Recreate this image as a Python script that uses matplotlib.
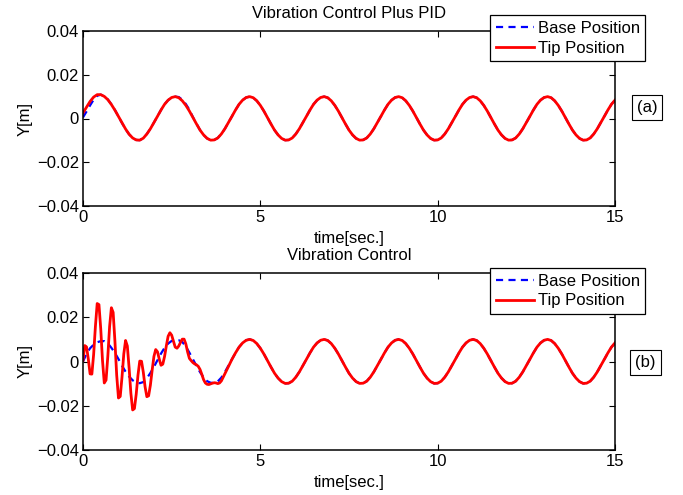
import numpy as np
import matplotlib
matplotlib.use("Agg")
import matplotlib.pyplot as plt

plt.rcParams['font.family'] = ['Liberation Sans', 'DejaVu Sans']
plt.rcParams['font.size'] = 12

# sample times [s]
t = np.round(np.arange(151) * 0.1, 2)
t_tip_b = np.round(np.concatenate([np.arange(84) * 0.05, 4.2 + np.arange(109) * 0.1]), 2)

# (a) vibration control plus PID, positions in m
base_a = [
    0.0005, 0.0032, 0.0060, 0.0086, 0.0104, 0.0109, 0.0102, 0.0087, 0.0065, 0.0039, 0.0009, -0.0021, -0.0049, -0.0072, -0.0089, -0.0098, -0.0099, -0.0090, -0.0071, -0.0047, -0.0019,
    0.0010, 0.0039, 0.0065, 0.0084, 0.0096, 0.0100, 0.0098, 0.0086, 0.0066, 0.0040, 0.0006, -0.0024, -0.0053, -0.0075, -0.0091, -0.0099, -0.0098, -0.0089, -0.0071, -0.0047, -0.0019,
    0.0010, 0.0039, 0.0065, 0.0084, 0.0096, 0.0100, 0.0095, 0.0081, 0.0060, 0.0034, 0.0004, -0.0025, -0.0053, -0.0075, -0.0091, -0.0099, -0.0098, -0.0089, -0.0071, -0.0047, -0.0019,
    0.0010, 0.0039, 0.0065, 0.0084, 0.0096, 0.0100, 0.0095, 0.0081, 0.0060, 0.0034, 0.0004, -0.0025, -0.0053, -0.0075, -0.0091, -0.0099, -0.0098, -0.0089, -0.0071, -0.0047, -0.0019,
    0.0010, 0.0039, 0.0065, 0.0084, 0.0096, 0.0100, 0.0095, 0.0081, 0.0060, 0.0034, 0.0004, -0.0025, -0.0053, -0.0075, -0.0091, -0.0099, -0.0098, -0.0089, -0.0071, -0.0047, -0.0019,
    0.0010, 0.0039, 0.0065, 0.0084, 0.0096, 0.0100, 0.0095, 0.0081, 0.0060, 0.0034, 0.0004, -0.0025, -0.0053, -0.0075, -0.0091, -0.0099, -0.0098, -0.0089, -0.0071, -0.0047, -0.0019,
    0.0010, 0.0039, 0.0065, 0.0084, 0.0096, 0.0100, 0.0095, 0.0081, 0.0060, 0.0034, 0.0004, -0.0025, -0.0053, -0.0075, -0.0091, -0.0099, -0.0098, -0.0089, -0.0071, -0.0047, -0.0019,
    0.0010, 0.0039, 0.0065, 0.0084,
]
tip_a = [
    0.0025, 0.0052, 0.0078, 0.0098, 0.0109, 0.0109, 0.0101, 0.0086, 0.0064, 0.0038, 0.0009, -0.0021, -0.0048, -0.0072, -0.0089, -0.0098, -0.0099, -0.0090, -0.0071, -0.0047, -0.0019,
    0.0010, 0.0039, 0.0065, 0.0084, 0.0096, 0.0100, 0.0095, 0.0081, 0.0060, 0.0034, 0.0004, -0.0025, -0.0053, -0.0075, -0.0091, -0.0099, -0.0098, -0.0089, -0.0071, -0.0047, -0.0019,
    0.0010, 0.0039, 0.0065, 0.0084, 0.0096, 0.0100, 0.0095, 0.0081, 0.0060, 0.0034, 0.0004, -0.0025, -0.0053, -0.0075, -0.0091, -0.0099, -0.0098, -0.0089, -0.0071, -0.0047, -0.0019,
    0.0010, 0.0039, 0.0065, 0.0084, 0.0096, 0.0100, 0.0095, 0.0081, 0.0060, 0.0034, 0.0004, -0.0025, -0.0053, -0.0075, -0.0091, -0.0099, -0.0098, -0.0089, -0.0071, -0.0047, -0.0019,
    0.0010, 0.0039, 0.0065, 0.0084, 0.0096, 0.0100, 0.0095, 0.0081, 0.0060, 0.0034, 0.0004, -0.0025, -0.0053, -0.0075, -0.0091, -0.0099, -0.0098, -0.0089, -0.0071, -0.0047, -0.0019,
    0.0010, 0.0039, 0.0065, 0.0084, 0.0096, 0.0100, 0.0095, 0.0081, 0.0060, 0.0034, 0.0004, -0.0025, -0.0053, -0.0075, -0.0091, -0.0099, -0.0098, -0.0089, -0.0071, -0.0047, -0.0019,
    0.0010, 0.0039, 0.0065, 0.0084, 0.0096, 0.0100, 0.0095, 0.0081, 0.0060, 0.0034, 0.0004, -0.0025, -0.0053, -0.0075, -0.0091, -0.0099, -0.0098, -0.0089, -0.0071, -0.0047, -0.0019,
    0.0010, 0.0039, 0.0065, 0.0084,
]

# (b) vibration control only
base_b = [
    0.0000, 0.0035, 0.0060, 0.0076, 0.0087, 0.0092, 0.0092, 0.0082, 0.0062, 0.0039, 0.0011, -0.0019, -0.0046, -0.0068, -0.0085, -0.0095, -0.0098, -0.0093, -0.0076, -0.0052, -0.0024,
    0.0006, 0.0036, 0.0062, 0.0081, 0.0093, 0.0097, 0.0096, 0.0088, 0.0068, 0.0040, 0.0010, -0.0020, -0.0048, -0.0072, -0.0089, -0.0096, -0.0097, -0.0090, -0.0073, -0.0048, -0.0019,
    0.0010, 0.0039, 0.0065, 0.0084, 0.0096, 0.0100, 0.0095, 0.0081, 0.0060, 0.0034, 0.0004, -0.0025, -0.0053, -0.0075, -0.0091, -0.0099, -0.0098, -0.0089, -0.0071, -0.0047, -0.0019,
    0.0010, 0.0039, 0.0065, 0.0084, 0.0096, 0.0100, 0.0095, 0.0081, 0.0060, 0.0034, 0.0004, -0.0025, -0.0053, -0.0075, -0.0091, -0.0099, -0.0098, -0.0089, -0.0071, -0.0047, -0.0019,
    0.0010, 0.0039, 0.0065, 0.0084, 0.0096, 0.0100, 0.0095, 0.0081, 0.0060, 0.0034, 0.0004, -0.0025, -0.0053, -0.0075, -0.0091, -0.0099, -0.0098, -0.0089, -0.0071, -0.0047, -0.0019,
    0.0010, 0.0039, 0.0065, 0.0084, 0.0096, 0.0100, 0.0095, 0.0081, 0.0060, 0.0034, 0.0004, -0.0025, -0.0053, -0.0075, -0.0091, -0.0099, -0.0098, -0.0089, -0.0071, -0.0047, -0.0019,
    0.0010, 0.0039, 0.0065, 0.0084, 0.0096, 0.0100, 0.0095, 0.0081, 0.0060, 0.0034, 0.0004, -0.0025, -0.0053, -0.0075, -0.0091, -0.0099, -0.0098, -0.0089, -0.0071, -0.0047, -0.0019,
    0.0010, 0.0039, 0.0065, 0.0084,
]
tip_b = [
    # 0 .. 4.15 s, every 0.05 s
    0.0005, 0.0072, 0.0066, 0.0011, -0.0056, -0.0057, 0.0032, 0.0159, 0.0262, 0.0257,
    0.0148, 0.0004, -0.0097, -0.0084, 0.0024, 0.0158, 0.0243, 0.0222, 0.0092, -0.0062,
    -0.0165, -0.0158, -0.0070, 0.0034, 0.0095, 0.0070, -0.0029, -0.0144, -0.0219, -0.0213,
    -0.0148, -0.0062, 0.0002, 0.0001, -0.0048, -0.0114, -0.0159, -0.0155, -0.0107, -0.0039,
    0.0023, 0.0054, 0.0044, 0.0011, -0.0017, -0.0012, 0.0023, 0.0071, 0.0114, 0.0130,
    0.0119, 0.0092, 0.0065, 0.0060, 0.0070, 0.0087, 0.0101, 0.0101, 0.0079, 0.0043,
    0.0014, 0.0004, -0.0005, -0.0011, -0.0015, -0.0022, -0.0036, -0.0058, -0.0082, -0.0097,
    -0.0103, -0.0104, -0.0101, -0.0098, -0.0096, -0.0097, -0.0100, -0.0097, -0.0088, -0.0072,
    -0.0056, -0.0040, -0.0023, -0.0006,
    # 4.2 .. 15 s, every 0.1 s
    0.0010, 0.0039, 0.0065, 0.0084, 0.0096, 0.0100, 0.0095, 0.0081, 0.0060, 0.0034, 0.0004, -0.0025, -0.0053, -0.0075, -0.0091, -0.0099, -0.0098, -0.0089, -0.0071, -0.0047, -0.0019,
    0.0010, 0.0039, 0.0065, 0.0084, 0.0096, 0.0100, 0.0095, 0.0081, 0.0060, 0.0034, 0.0004, -0.0025, -0.0053, -0.0075, -0.0091, -0.0099, -0.0098, -0.0089, -0.0071, -0.0047, -0.0019,
    0.0010, 0.0039, 0.0065, 0.0084, 0.0096, 0.0100, 0.0095, 0.0081, 0.0060, 0.0034, 0.0004, -0.0025, -0.0053, -0.0075, -0.0091, -0.0099, -0.0098, -0.0089, -0.0071, -0.0047, -0.0019,
    0.0010, 0.0039, 0.0065, 0.0084, 0.0096, 0.0100, 0.0095, 0.0081, 0.0060, 0.0034, 0.0004, -0.0025, -0.0053, -0.0075, -0.0091, -0.0099, -0.0098, -0.0089, -0.0071, -0.0047, -0.0019,
    0.0010, 0.0039, 0.0065, 0.0084, 0.0096, 0.0100, 0.0095, 0.0081, 0.0060, 0.0034, 0.0004, -0.0025, -0.0053, -0.0075, -0.0091, -0.0099, -0.0098, -0.0089, -0.0071, -0.0047, -0.0019,
    0.0010, 0.0039, 0.0065, 0.0084,
]

y_ticks = [-0.04, -0.02, 0, 0.02, 0.04]
y_tick_labels = ['\u22120.04', '\u22120.02', '0', '0.02', '0.04']
x_ticks = [0, 5, 10, 15]

W, H = 683, 495
fig = plt.figure(figsize=(W / 100, H / 100), dpi=100)


def panel(rect, tb, base, tt, tip, title, tag, tag_xy, leg_top):
    ax = fig.add_axes(rect)
    ax.plot(tb, base, color='b', ls='--', lw=1.6, dashes=(3.2, 2.4), label='Base Position')
    ax.plot(tt, tip, color='r', lw=2.0, label='Tip Position')
    ax.set_xlim(0, 15)
    ax.set_ylim(-0.04, 0.04)
    ax.set_xticks(x_ticks)
    ax.set_yticks(y_ticks)
    ax.set_yticklabels(y_tick_labels)
    ax.tick_params(direction='in', top=True, right=True, length=4, width=0.8, pad=3)
    for s in ax.spines.values():
        s.set_linewidth(1.1)
    ax.set_xlabel('time[sec.]', labelpad=4)
    ax.set_ylabel('Y[m]', labelpad=3)
    ax.set_title(title, fontsize=12, pad=9)
    leg = ax.legend(loc='upper left', bbox_to_anchor=(490 / W, 1 - leg_top / H),
                    bbox_transform=fig.transFigure, fancybox=False, edgecolor='k',
                    framealpha=1, fontsize=12, handlelength=2.3, handletextpad=0.2,
                    borderpad=0.35, labelspacing=0.28, borderaxespad=0)
    leg.get_frame().set_linewidth(0.9)
    fig.text(tag_xy[0] / W, 1 - tag_xy[1] / H, tag, ha='center', va='center',
             bbox=dict(boxstyle='square,pad=0.3', fc='white', ec='k', lw=0.8))
    return ax


panel([83 / W, 1 - 206 / H, 532 / W, 175 / H], t, base_a, t, tip_a,
      'Vibration Control Plus PID', '(a)', (647, 107.5), 15)
panel([83 / W, 1 - 450 / H, 532 / W, 177 / H], t, base_b, t_tip_b, tip_b,
      'Vibration Control', '(b)', (645.5, 362.5), 268)

fig.savefig('out.png', dpi=100)
